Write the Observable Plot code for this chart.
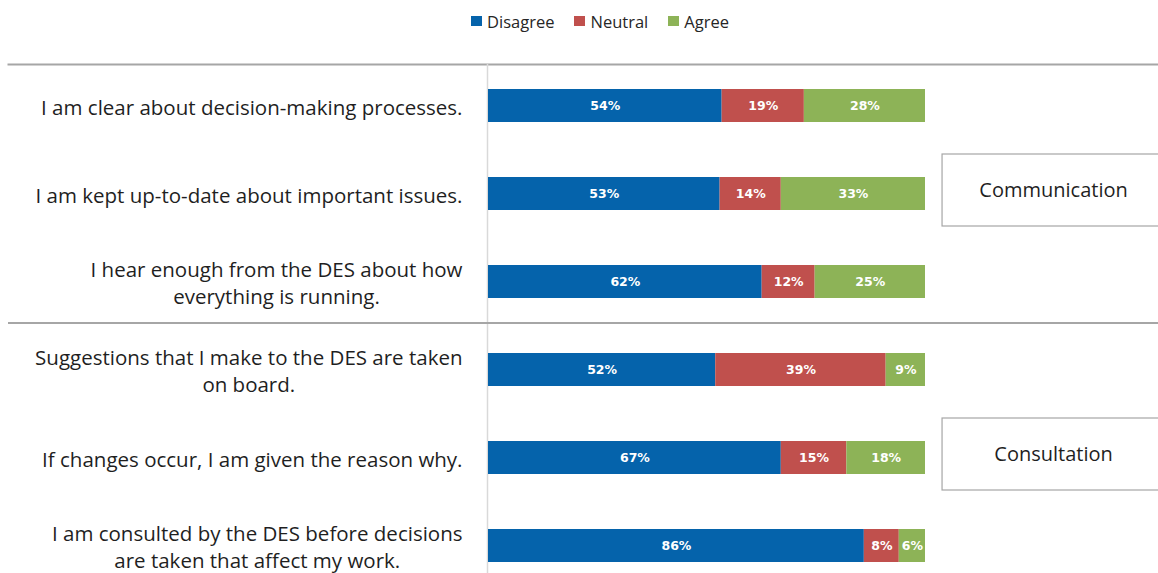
<!DOCTYPE html>
<html>
<head>
<meta charset="utf-8">
<script src="https://cdn.jsdelivr.net/npm/d3@7"></script>
<script src="https://cdn.jsdelivr.net/npm/@observablehq/plot@0.6"></script>
<style>
  html, body { margin: 0; padding: 0; background: #fff; overflow: hidden; }
  #legend { height: 42px; display: flex; justify-content: center; align-items: center; padding-left: 42px; box-sizing: border-box;
            font-family: "Open Sans", sans-serif; font-size: 16.5px; color: #262626; }
  #legend .item { display: flex; align-items: center; margin: 0 10px; }
  #legend .sw { width: 11px; height: 10px; margin-right: 5px; display: inline-block; }
</style>
</head>
<body>
<div id="legend"></div>
<div id="chart"></div>
<script>
// ---- data ----
const questions = [
  "I am clear about decision-making processes.",
  "I am kept up-to-date about important issues.",
  "I hear enough from the DES about how\neverything is running.",
  "Suggestions that I make to the DES are taken\non board.",
  "If changes occur, I am given the reason why.",
  "I am consulted by the DES before decisions\nare taken that affect my work."
];
const responses = ["Disagree", "Neutral", "Agree"];
const disagree = [54, 53, 62, 52, 67, 86];
const neutral  = [19, 14, 12, 39, 15, 8];
const agree    = [28, 33, 25, 9, 18, 6];
const colors   = ["#0563ab", "#c0504d", "#8db357"];
const groups   = ["Communication", "Consultation"];
const groupMidQuestion = [1, 4];

// ---- build table ----
const series = [disagree, neutral, agree];
const rows = questions.flatMap((q, i) => responses.map((r, j) => ({q, resp: r, value: series[j][i]})));

// ---- legend ----
const legend = document.getElementById("legend");
responses.forEach((r, j) => {
  const it = document.createElement("span");
  it.className = "item";
  it.innerHTML = `<span class="sw" style="background:${colors[j]}"></span>${r}`;
  legend.appendChild(it);
});

// ---- layout helpers ----
const labelFont = "'Open Sans', sans-serif";
const labelSize = 20.5;
const ctx = document.createElement("canvas").getContext("2d");
ctx.font = `${labelSize}px 'Open Sans'`;
const widths = questions.map(q => Math.max(...q.split("\n").map(l => ctx.measureText(l).width)));

const yRange = [19, 547];
const padIn = 0.625, padOut = 0.3125;
const step = (yRange[1] - yRange[0]) / (questions.length - padIn + 2 * padOut);
const boxX1 = 1.039, boxX2 = 1.547;
const labelGap = 26;

const labelMarks = questions.map((q, i) => Plot.text([q], {
  y: d => d, x: () => 0, text: d => d,
  textAnchor: "middle", dx: -(labelGap + widths[i] / 2),
  lineHeight: 1.32, fontSize: labelSize, fill: "#1f1f1f", fontFamily: labelFont
}));

const chart = Plot.plot({
  width: 1158, height: 531,
  marginTop: 22, marginLeft: 8, marginRight: 0, marginBottom: 0,
  x: {domain: [0, 1], range: [488, 925], axis: null},
  y: {domain: questions, range: yRange, paddingInner: padIn, paddingOuter: padOut, axis: null},
  color: {domain: responses, range: colors},
  style: {fontFamily: labelFont, background: "white", overflow: "hidden"},
  marks: [
    Plot.frame({anchor: "top", stroke: "#a6a6a6", strokeWidth: 2}),
    Plot.ruleX([0], {stroke: "#d9d9d9", strokeWidth: 1.5, dx: -1}),
    Plot.ruleY([questions[3]], {stroke: "#a6a6a6", strokeWidth: 2, dy: -step / 2 - 3}),
    Plot.barX(rows, Plot.stackX({x: "value", y: "q", fill: "resp", order: responses, offset: "normalize"})),
    Plot.text(rows, Plot.stackX({
      x: "value", y: "q", z: "resp", order: responses, offset: "normalize",
      text: d => d.value + "%", fill: "white", fontFamily: "DejaVu Sans", fontWeight: "bold", fontSize: 12.5
    })),
    Plot.barX(groups, {
      x1: () => boxX1, x2: () => boxX2, y: (d, i) => questions[groupMidQuestion[i]],
      insetTop: -23, insetBottom: -16, fill: "white", stroke: "#a6a6a6", strokeWidth: 1.2
    }),
    Plot.text(groups, {
      x: () => (boxX1 + boxX2) / 2, y: (d, i) => questions[groupMidQuestion[i]], text: d => d,
      dy: -3, fontSize: 20, fill: "#1f1f1f", fontFamily: labelFont
    }),
    ...labelMarks
  ]
});
document.getElementById("chart").appendChild(chart);
</script>
</body>
</html>
